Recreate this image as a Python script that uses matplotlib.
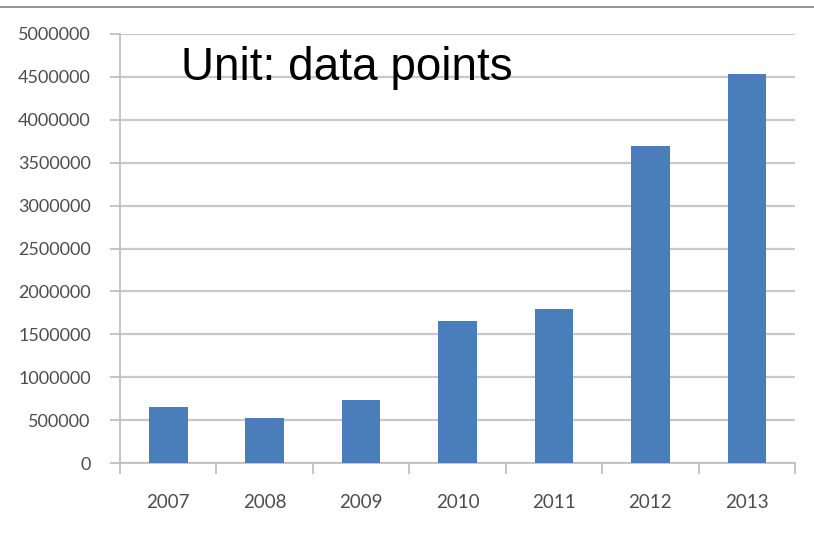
import matplotlib.pyplot as plt
from matplotlib.lines import Line2D

years = ['2007', '2008', '2009', '2010', '2011', '2012', '2013']
points = [650000, 520000, 740000, 1650000, 1800000, 3700000, 4530000]
yticks = [0, 500000, 1000000, 1500000, 2000000, 2500000, 3000000,
          3500000, 4000000, 4500000, 5000000]

fig = plt.figure(figsize=(8.14, 5.38), dpi=100)
ax = fig.add_axes([120 / 814, 1 - 463 / 538, 675 / 814, 429 / 538])

x = range(len(years))
ax.bar(x, points, width=0.4, color='#4a7ebb', zorder=3)

ax.set_xlim(-0.5, len(years) - 0.5)
ax.set_ylim(0, 5000000)
ax.set_yticks(yticks)
ax.set_yticklabels([str(v) for v in yticks])
ax.set_xticks(list(x))
ax.set_xticklabels(years)
ax.set_xticks([i - 0.5 for i in range(len(years) + 1)], minor=True)

ax.grid(axis='y', color='#c8c8c8', linewidth=1.6, zorder=0)
for s in ['top', 'right']:
    ax.spines[s].set_visible(False)
for s in ['left', 'bottom']:
    ax.spines[s].set_color('#c0c0c0')
    ax.spines[s].set_linewidth(1.3)

ax.tick_params(axis='y', length=7, width=1.3, color='#c0c0c0', pad=14,
               labelsize=13, labelcolor='#4d4d4d')
ax.tick_params(axis='x', which='major', length=0, pad=22,
               labelsize=13.5, labelcolor='#4d4d4d')
ax.tick_params(axis='x', which='minor', length=8, width=1.3, color='#c0c0c0')
for lab in ax.get_xticklabels() + ax.get_yticklabels():
    lab.set_family('Lato')

ax.text(0.09, 0.92, 'Unit: data points', transform=ax.transAxes,
        fontsize=33, family='Liberation Sans', color='black', va='center')

# thin frame line at the top of the screenshot
fig.add_artist(Line2D([0, 1], [1 - 7 / 538, 1 - 7 / 538], color='#808080',
                      linewidth=1.2, transform=fig.transFigure))

fig.savefig('out.png', dpi=100)
